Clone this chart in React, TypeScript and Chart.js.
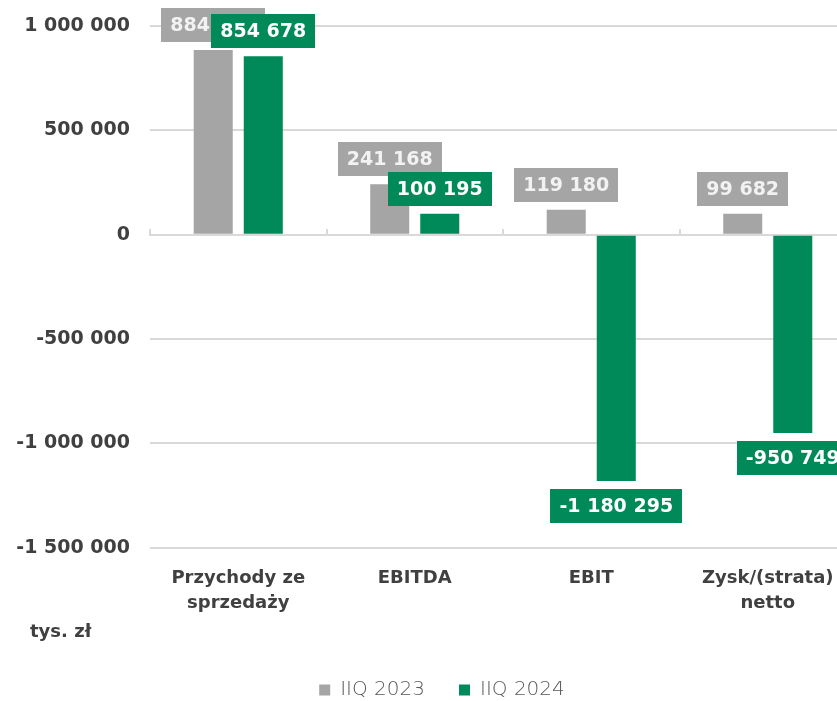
import React, { useEffect, useRef } from "react";
import { Chart, registerables } from "chart.js";

Chart.register(...registerables);

const categories: (string | string[])[] = [["Przychody ze", "sprzedaży"], "EBITDA", "EBIT", ["Zysk/(strata)", "netto"]];
const seriesNames = ["IIQ 2023", "IIQ 2024"];
const values2023 = [884500, 241168, 119180, 99682];
const values2024 = [854678, 100195, -1180295, -950749];
const yMin = -1500000;
const yMax = 1000000;
const yStep = 500000;
const unitLabel = "tys. zł";

const GRAY = "#A5A5A5";
const GREEN = "#008A5A";
const FONT = '"DejaVu Sans"';

const fmt = (v: number) => {
  const s = Math.abs(Math.round(v)).toString().replace(/\B(?=(\d{3})+(?!\d))/g, " ");
  return (v < 0 ? "-" : "") + s;
};

const labelPlugin = {
  id: "barLabels",
  afterDatasetsDraw(chart: any) {
    const ctx = chart.ctx;
    chart.data.datasets.forEach((ds: any, i: number) => {
      const meta = chart.getDatasetMeta(i);
      meta.data.forEach((bar: any, j: number) => {
        const v = ds.data[j] as number;
        const text = fmt(v);
        ctx.save();
        ctx.font = `bold 19px ${FONT}`;
        const w = ctx.measureText(text).width + 18;
        const h = 34;
        const x = bar.x;
        const top = v >= 0 ? bar.y - 8 - h : bar.y + 8;
        ctx.fillStyle = ds.labelBg;
        ctx.fillRect(Math.round(x - w / 2), Math.round(top), Math.round(w), h);
        ctx.fillStyle = ds.labelColor;
        ctx.textAlign = "center";
        ctx.textBaseline = "middle";
        ctx.fillText(text, x, top + h / 2 + 1);
        ctx.restore();
      });
    });
  },
};

export default function App() {
  const ref = useRef<HTMLCanvasElement | null>(null);
  useEffect(() => {
    if (!ref.current) return;
    const chart = new Chart(ref.current, {
      type: "bar",
      data: {
        labels: categories as any,
        datasets: [
          {
            label: seriesNames[0],
            data: values2023,
            backgroundColor: GRAY,
            categoryPercentage: 0.567,
            barPercentage: 0.78,
            labelBg: GRAY,
            labelColor: "#F2F2F2",
          } as any,
          {
            label: seriesNames[1],
            data: values2024,
            backgroundColor: GREEN,
            categoryPercentage: 0.567,
            barPercentage: 0.78,
            labelBg: GREEN,
            labelColor: "#FFFFFF",
          } as any,
        ],
      },
      options: {
        responsive: false,
        animation: false,
        devicePixelRatio: 1,
        layout: { autoPadding: false, padding: { left: 15, top: 26, right: 28, bottom: 0 } },
        plugins: {
          tooltip: { enabled: false },
          legend: {
            position: "bottom",
            labels: {
              boxWidth: 11,
              boxHeight: 11,
              padding: 34,
              color: "#595959",
              font: { family: FONT, size: 20, weight: "200" as any },
            },
          },
        },
        scales: {
          x: {
            grid: { display: false, drawTicks: false },
            border: { display: false },
            ticks: {
              color: "#404040",
              padding: 18,
              font: { family: FONT, size: 18, weight: "bold", lineHeight: 1.4 },
              maxRotation: 0,
              autoSkip: false,
            },
            title: { display: true, text: "", padding: 0, font: { size: 10, lineHeight: 1.2 } },
          },
          x2: {
            type: "category",
            labels: categories as any,
            offset: true,
            position: { y: 0 } as any,
            grid: {
              offset: true,
              drawOnChartArea: false,
              drawTicks: true,
              tickLength: -7,
              color: "#D9D9D9",
              lineWidth: 2,
            },
            border: { display: true, color: "#D9D9D9", width: 2 },
            ticks: { display: false },
          },
          y: {
            min: yMin,
            max: yMax,
            afterFit: (scale: any) => {
              scale.width = 135;
            },
            ticks: {
              stepSize: yStep,
              padding: 20,
              color: "#404040",
              font: { family: FONT, size: 19, weight: "bold", lineHeight: 0.6 },
              callback: (v: any) => fmt(Number(v)),
            },
            grid: { color: "#D9D9D9", lineWidth: 2, drawTicks: false },
            border: { display: false },
          },
          ySpacer: {
            type: "linear",
            position: "right",
            afterFit: (scale: any) => {
              scale.width = 13;
            },
            grid: { display: false, drawTicks: false },
            border: { display: false },
            ticks: { display: false },
          },
        },
      } as any,
      plugins: [labelPlugin],
    });
    return () => chart.destroy();
  }, []);

  return (
    <div
      style={{
        position: "fixed",
        left: 0,
        top: 0,
        width: 837,
        height: 701,
        overflow: "hidden",
        background: "#fff",
      }}
    >
      <canvas ref={ref} width={897} height={710} style={{ display: "block", width: 897, height: 710 }} />
      <div
        style={{
          position: "absolute",
          left: 30,
          top: 621,
          font: `bold 18px ${FONT}`,
          lineHeight: "20px",
          color: "#404040",
        }}
      >
        {unitLabel}
      </div>
    </div>
  );
}
